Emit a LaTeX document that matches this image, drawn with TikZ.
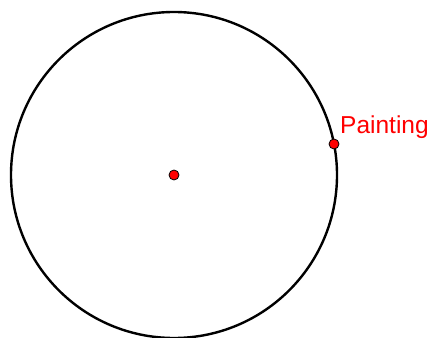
\documentclass[tikz,border=0pt]{standalone}
\usepackage{fontspec}
\setmainfont{Liberation Sans}
\begin{document}
\begin{tikzpicture}[x=1pt,y=1pt,
  dot/.style={circle,fill=red,draw=black,line width=0.8pt,inner sep=0pt,minimum size=10pt},
  lbl/.style={text=red,font=\fontsize{24.5}{28}\selectfont,inner sep=0pt,anchor=base west}]
\useasboundingbox (0,0) rectangle (433,337);
\coordinate (c) at (174,162);
\draw[line width=2.4pt] (c) circle[radius=163];
\node[dot] (center) at (c) {};
\node[dot] (p) at (334,193) {};
\node[lbl] (label) at (340,203) {Painting};
\end{tikzpicture}
\end{document}
